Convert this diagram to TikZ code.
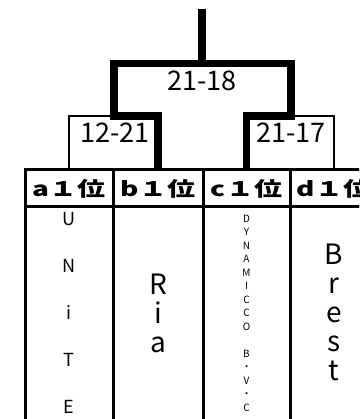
\documentclass[tikz,border=0pt]{standalone}
\usepackage{graphicx}
\usepackage{fontspec}
\setmainfont{Noto Sans CJK JP}
\usetikzlibrary{positioning}

\begin{document}
\begin{tikzpicture}[
  x=1pt, y=-1pt,
  win/.style={line width=7.5pt, draw=black},
  lose/.style={line width=2pt, draw=black},
  cell/.style={draw, line width=3pt, outer sep=0pt, inner sep=0pt, minimum height=37pt, font=\fontsize{20}{24}\selectfont\bfseries},
  body/.style={draw, line width=3pt, outer sep=0pt, inner sep=0pt, minimum height=225pt},
  score/.style={inner sep=0pt, font=\fontsize{27}{30}\selectfont},
  teamname/.style={align=center, inner sep=0pt}
]
\clip (0,0) rectangle (359,419);

% header row
\node[cell, minimum width=88pt] (ha) at (69,188.5) {\scalebox{1.4}[1]{a１位}};
\node[cell, minimum width=90pt] (hb) at (158,188.5) {\scalebox{1.4}[1]{b１位}};
\node[cell, minimum width=87pt] (hc) at (246.5,188.5) {\scalebox{1.4}[1]{c１位}};
\node[cell, minimum width=88pt] (hd) at (334,188.5) {\scalebox{1.4}[1]{d１位}};

% team columns
\node[body, minimum width=88pt, below=0pt of ha] (ba) {};
\node[body, minimum width=90pt, below=0pt of hb] (bb) {};
\node[body, minimum width=87pt, below=0pt of hc] (bc) {};
\node[body, minimum width=88pt, below=0pt of hd] (bd) {};

\node[teamname, font=\fontsize{18}{47}\selectfont] (na) at (69,313) {U\\N\\i\\T\\E};
\node[teamname, font=\fontsize{28}{29}\selectfont] (nb) at (158,313) {R\\i\\a};
\node[teamname, font=\fontsize{10}{13.5}\selectfont] (nc) at (246.5,313) {D\\Y\\N\\A\\M\\I\\C\\C\\O\\[13.5pt]B\\・\\V\\・\\C};
\node[teamname, font=\fontsize{28}{29}\selectfont] (nd) at (334,312) {B\\r\\e\\s\\t};

% bracket
\coordinate (qa) at (114,116);
\coordinate (qc) at (291,116);
\coordinate (semi) at (202,63.5);
\coordinate (top) at (202,9);

\draw[lose] (ha.north) |- (qa);
\draw[win] (hb.north) |- (qa) |- (semi);
\draw[win] (hc.north) |- (qc) |- (semi);
\draw[lose] (qc) -| (hd.north);
\draw[win] (top) -- (semi);

\node[score] (f) at (202,81) {21-18};
\node[score] (sa) at (115,133) {12-21};
\node[score] (sc) at (291,133) {21-17};
\end{tikzpicture}
\end{document}
